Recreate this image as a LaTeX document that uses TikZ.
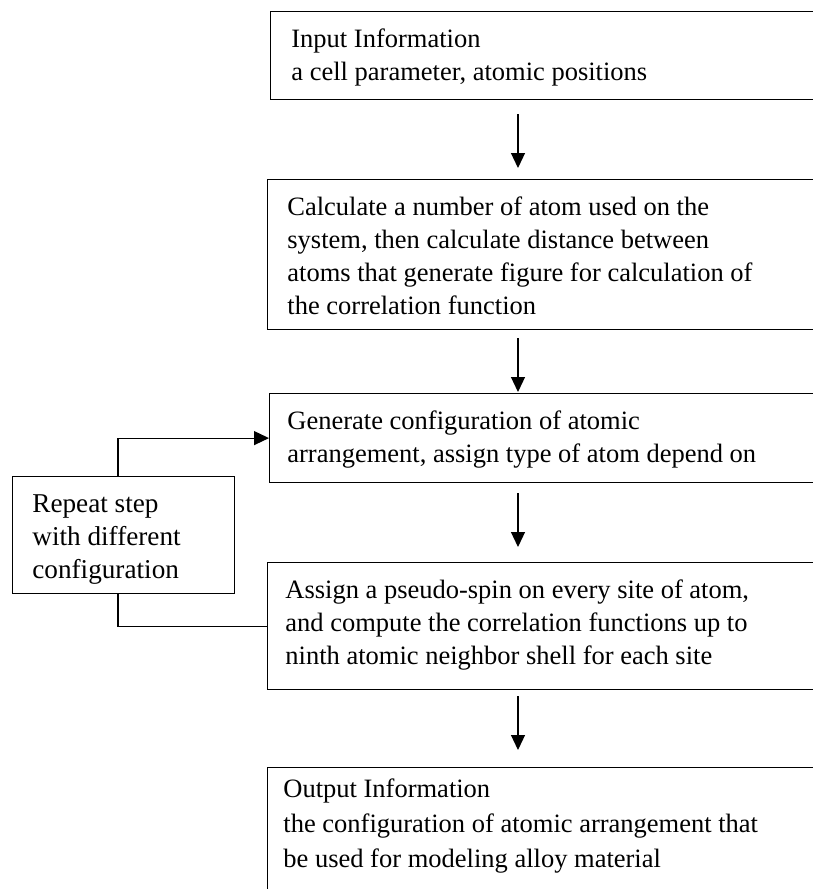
\documentclass[tikz,border=0pt]{standalone}
\usepackage{fontspec}
\setmainfont{Liberation Serif}
\usetikzlibrary{arrows.meta}
\begin{document}
\begin{tikzpicture}[x=0.5pt,y=-0.5pt,
  box/.style={draw=black,line width=0.6pt,rectangle,inner sep=0pt,anchor=north west},
  txt/.style={anchor=north west,inner sep=0pt,align=left,font=\fontsize{13.25pt}{16.5pt}\selectfont},
  arr/.style={line width=0.6pt,-{Triangle[length=7.5pt,width=7pt]}},
  ln/.style={line width=0.6pt}]
\useasboundingbox (0,0) rectangle (813,889);
\clip (0,0) rectangle (813,889);
% boxes
\node[box,minimum width=280pt,minimum height=44pt] (b1) at (270,11) {};
\node[box,minimum width=281.5pt,minimum height=75pt] (b2) at (267,179) {};
\node[box,minimum width=280.5pt,minimum height=44.5pt] (b3) at (269,393) {};
\node[box,minimum width=281.5pt,minimum height=63.5pt] (b4) at (267,562) {};
\node[box,minimum width=281.5pt,minimum height=66.5pt] (b5) at (267,767) {};
\node[box,minimum width=111pt,minimum height=58.5pt] (L) at (12,476) {};
% texts
\node[txt] (t1) at ([shift={(21,12)}]b1.north west) {\rule{0pt}{12pt}Input Information\\a cell parameter, atomic positions};
\node[txt] (t2) at ([shift={(20,12)}]b2.north west) {\rule{0pt}{12pt}Calculate a number of atom used on the\\system, then calculate distance between\\atoms that generate figure for calculation of\\the correlation function};
\node[txt] (t3) at ([shift={(18,12)}]b3.north west) {\rule{0pt}{12pt}Generate configuration of atomic\\arrangement, assign type of atom depend on};
\node[txt] (t4) at ([shift={(18,12)}]b4.north west) {\rule{0pt}{12pt}Assign a pseudo-spin on every site of atom,\\and compute the correlation functions up to\\ninth atomic neighbor shell for each site};
\node[txt,font=\fontsize{13.25pt}{17.5pt}\selectfont] (t5) at ([shift={(16,6)}]b5.north west) {\rule{0pt}{12pt}Output Information\\the configuration of atomic arrangement that\\be used for modeling alloy material};
\node[txt,font=\fontsize{13.6pt}{16.5pt}\selectfont] (tL) at ([shift={(20,12)}]L.north west) {\rule{0pt}{12pt}Repeat step\\with different\\configuration};
% vertical arrows
\coordinate (ax) at (518,0);
\draw[arr,shorten <=7pt,shorten >=5.5pt] (b1.south -| ax) -- (b2.north -| ax);
\draw[arr,shorten <=4pt,shorten >=0.5pt] (b2.south -| ax) -- (b3.north -| ax);
\draw[arr,shorten <=5pt,shorten >=7.5pt] (b3.south -| ax) -- (b4.north -| ax);
\draw[arr,shorten <=3pt,shorten >=8.5pt] (b4.south -| ax) -- (b5.north -| ax);
% feedback loop
\coordinate (fx) at (118,0);
\draw[arr] (L.north -| fx) |- (b3.west);
\draw[ln] (L.south -| fx) |- (b4.west);
\end{tikzpicture}
\end{document}
